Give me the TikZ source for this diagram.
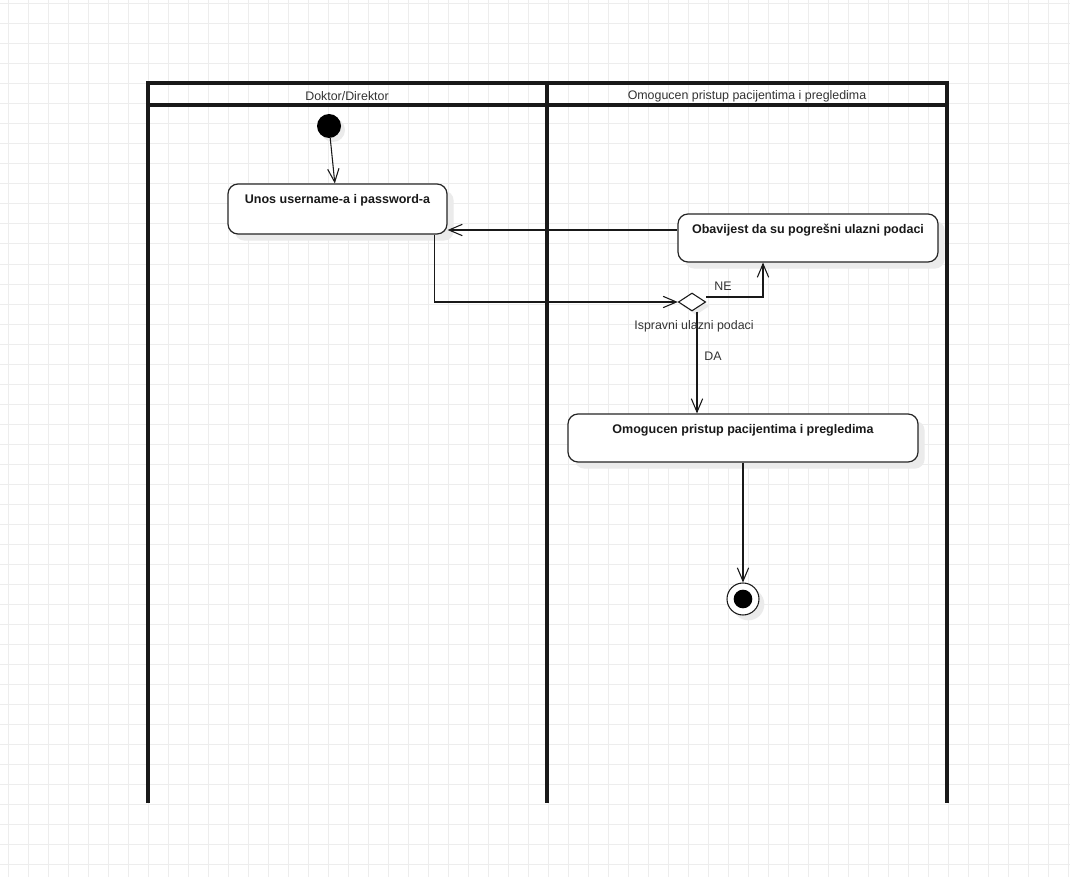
\documentclass[tikz,border=0pt]{standalone}
\usepackage{fontspec}
\setmainfont{Liberation Sans}
\usetikzlibrary{arrows.meta,shadows,shapes.geometric,calc}
\begin{document}
\begin{tikzpicture}[x=0.75pt,y=-0.75pt,
  gridline/.style={draw=black!7,line width=0.75pt},
  lane/.style={line width=2.4pt,black!90},
  lanetitle/.style={font=\fontsize{9.3}{10}\selectfont,text=black!80},
  actbox/.style={draw=black!85,line width=0.9pt,rounded corners=7.5pt,fill=white,
    inner sep=0pt,
    drop shadow={shadow xshift=5pt,shadow yshift=-5pt,fill=black!8,opacity=1}},
  acttext/.style={font=\bfseries\fontsize{9.4}{10}\selectfont,text=black!90},
  edgelabel/.style={font=\fontsize{9.3}{10}\selectfont,text=black!80,inner sep=1pt},
  flow/.style={draw=black!90,line width=0.8pt,-{Straight Barb[length=10pt,width=8.5pt]}},
  startnode/.style={circle,fill=black,minimum size=18pt,inner sep=0pt,
    drop shadow={shadow xshift=3pt,shadow yshift=-3pt,fill=black!8,opacity=1}},
  decision/.style={diamond,draw=black!90,fill=white,line width=0.8pt,inner sep=0pt,
    minimum width=20.5pt,minimum height=13.5pt,
    drop shadow={shadow xshift=3pt,shadow yshift=-3pt,fill=black!8,opacity=1}},
  endouter/.style={circle,draw=black!90,fill=white,line width=0.8pt,minimum size=24pt,inner sep=0pt,
    drop shadow={shadow xshift=4pt,shadow yshift=-4pt,fill=black!8,opacity=1}},
  endinner/.style={circle,fill=black,minimum size=14pt,inner sep=0pt}
]
\useasboundingbox (0,0) rectangle (1070,877);
\fill[white] (0,0) rectangle (1070,877);

% background grid
\foreach \gx in {8,28,...,1068} \draw[gridline] (\gx,0) -- (\gx,877);
\foreach \gy in {4,24,...,876} \draw[gridline] (0,\gy) -- (1070,\gy);

% swimlanes
\draw[lane] (148,803) -- (148,83) -- (947,83) -- (947,803);
\draw[lane] (148,105) -- (947,105);
\draw[lane] (547,83) -- (547,803);
\node[lanetitle] (laneA) at (347,96) {Doktor/Direktor};
\node[lanetitle] (laneB) at (747,96) {Omogucen pristup pacijentima i pregledima};

% activity nodes
\node[startnode] (init) at (329,126) {};
\node[actbox,minimum width=164.25pt,minimum height=37.5pt] (unos) at (337.5,209) {};
\node[acttext] (unosT) at ([yshift=-12.5pt]unos.north) {Unos username-a i password-a};
\node[actbox,minimum width=195pt,minimum height=36pt] (obav) at (808,238) {};
\node[acttext] (obavT) at ([yshift=-12.5pt]obav.north) {Obavijest da su pogrešni ulazni podaci};
\node[decision] (dec) at (692,302) {};
\node[actbox,minimum width=262.5pt,minimum height=36pt] (omog) at (743,438) {};
\node[acttext] (omogT) at ([yshift=-12.5pt]omog.north) {Omogucen pristup pacijentima i pregledima};
\node[endouter] (fin) at (743,599) {};
\node[endinner] (finc) at (fin.center) {};

% control flows
\draw[flow] (init) -- ([xshift=-2pt]unos.north);
\draw[flow] ([xshift=-9.75pt]unos.south east) |- (dec.west);
\coordinate (retA) at ([yshift=6pt]obav.west);
\draw[flow] (retA) -- (retA -| unos.east);
\draw[flow] ([yshift=3.75pt]dec.east) -| ([xshift=-33.75pt]obav.south);
\coordinate (daA) at ([xshift=3.75pt]dec.south);
\draw[flow] (daA) -- (daA |- omog.north);
\draw[flow] (omog.south) -- (fin.north);

% labels
\node[edgelabel] (neL) at (723,286) {NE};
\node[edgelabel] (decL) at (694,326) {Ispravni ulazni podaci};
\node[edgelabel] (daL) at (713,356) {DA};
\end{tikzpicture}
\end{document}
